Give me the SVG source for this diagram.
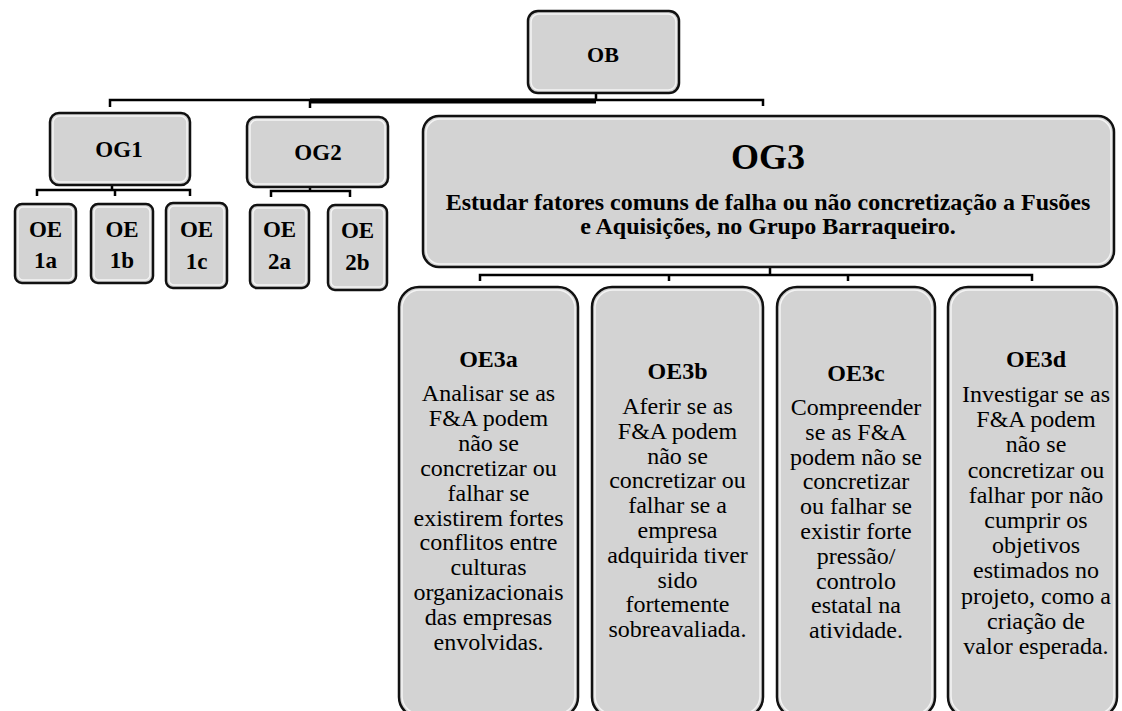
<svg xmlns="http://www.w3.org/2000/svg" width="1122" height="711" viewBox="0 0 1122 711">
<style>
.box{fill:#d3d3d3;stroke:#111;stroke-width:2.5}
.hl{fill:none;stroke:#fff;stroke-opacity:0.75;stroke-width:1.5}
text{font-family:'Liberation Serif','Times New Roman','DejaVu Serif',serif;text-anchor:middle;fill:#000}
.b{font-weight:bold}
.r{font-weight:normal;font-size:24px}
.c{stroke:#000;stroke-width:2.5;fill:none}
</style>
<rect width="1122" height="711" fill="#fff"/>
<g id="connectors">
<path class="c" d="M596,93 V100 M110,107 V100 H763 V106 M310,100 V108"/>
<path d="M310,101 H596" stroke="#000" stroke-width="5"/>
<path class="c" d="M112,185 V190 M37,196 V190 H190 V196 M115,190 V196"/>
<path class="c" d="M310,187 V191 M271,197 V191 H350 V197"/>
<path class="c" d="M770,267 V275 M480,281 V275 H1032 V281 M669,275 V281 M848,275 V281"/>
</g>
<g id="OB">
<rect class="box" x="528" y="11" width="151" height="82" rx="10"/>
<rect class="hl" x="531" y="14" width="145" height="76" rx="8"/>
<text class="b" x="603" y="62" font-size="22">OB</text>
</g>
<g id="OG1">
<rect class="box" x="50" y="113" width="140" height="72" rx="9"/>
<rect class="hl" x="53" y="116" width="134" height="66" rx="7"/>
<text class="b" x="119" y="157" font-size="23">OG1</text>
</g>
<g id="OG2">
<rect class="box" x="247" y="117" width="141" height="70" rx="9"/>
<rect class="hl" x="250" y="120" width="135" height="64" rx="7"/>
<text class="b" x="318" y="160" font-size="23">OG2</text>
</g>
<g id="OE1a">
<rect class="box" x="15" y="204" width="61" height="79" rx="7"/>
<rect class="hl" x="18" y="207" width="55" height="73" rx="5"/>
<text class="b" x="45.5" y="237" font-size="23">OE</text>
<text class="b" x="45.5" y="268" font-size="23">1a</text>
</g>
<g id="OE1b">
<rect class="box" x="91" y="204" width="62" height="79" rx="7"/>
<rect class="hl" x="94" y="207" width="56" height="73" rx="5"/>
<text class="b" x="122" y="237" font-size="23">OE</text>
<text class="b" x="122" y="268" font-size="23">1b</text>
</g>
<g id="OE1c">
<rect class="box" x="166" y="203" width="61" height="85" rx="7"/>
<rect class="hl" x="169" y="206" width="55" height="79" rx="5"/>
<text class="b" x="196.5" y="237" font-size="23">OE</text>
<text class="b" x="196.5" y="269" font-size="23">1c</text>
</g>
<g id="OE2a">
<rect class="box" x="250" y="205" width="59" height="83" rx="7"/>
<rect class="hl" x="253" y="208" width="53" height="77" rx="5"/>
<text class="b" x="279.5" y="237" font-size="23">OE</text>
<text class="b" x="279.5" y="269" font-size="23">2a</text>
</g>
<g id="OE2b">
<rect class="box" x="328" y="205" width="59" height="85" rx="7"/>
<rect class="hl" x="331" y="208" width="53" height="79" rx="5"/>
<text class="b" x="357.5" y="238" font-size="23">OE</text>
<text class="b" x="357.5" y="270" font-size="23">2b</text>
</g>
<g id="OG3">
<rect class="box" x="423" y="116" width="691" height="151" rx="16"/>
<rect class="hl" x="426" y="119" width="685" height="145" rx="14"/>
<text class="b" x="768" y="169" font-size="36">OG3</text>
<text class="b" x="768" y="210" font-size="24">Estudar fatores comuns de falha ou não concretização a Fusões</text>
<text class="b" x="768" y="234" font-size="24">e Aquisições, no Grupo Barraqueiro.</text>
</g>
<g id="OE3a">
<rect class="box" x="399" y="287" width="179" height="430" rx="20"/>
<rect class="hl" x="402" y="290" width="173" height="424" rx="18"/>
<text class="b" x="488.5" y="367" font-size="24">OE3a</text>
<text class="r" x="488.5" y="401"><tspan x="488.5">Analisar se as</tspan><tspan x="488.5" dy="24.9">F&amp;A podem</tspan><tspan x="488.5" dy="24.9">não se</tspan><tspan x="488.5" dy="24.9">concretizar ou</tspan><tspan x="488.5" dy="24.9">falhar se</tspan><tspan x="488.5" dy="24.9">existirem fortes</tspan><tspan x="488.5" dy="24.9">conflitos entre</tspan><tspan x="488.5" dy="24.9">culturas</tspan><tspan x="488.5" dy="24.9">organizacionais</tspan><tspan x="488.5" dy="24.9">das empresas</tspan><tspan x="488.5" dy="24.9">envolvidas.</tspan></text>
</g>
<g id="OE3b">
<rect class="box" x="592" y="287" width="171" height="430" rx="20"/>
<rect class="hl" x="595" y="290" width="165" height="424" rx="18"/>
<text class="b" x="677.5" y="379" font-size="24">OE3b</text>
<text class="r" x="677.5" y="414"><tspan x="677.5">Aferir se as</tspan><tspan x="677.5" dy="24.8">F&amp;A podem</tspan><tspan x="677.5" dy="24.8">não se</tspan><tspan x="677.5" dy="24.8">concretizar ou</tspan><tspan x="677.5" dy="24.8">falhar se a</tspan><tspan x="677.5" dy="24.8">empresa</tspan><tspan x="677.5" dy="24.8">adquirida tiver</tspan><tspan x="677.5" dy="24.8">sido</tspan><tspan x="677.5" dy="24.8">fortemente</tspan><tspan x="677.5" dy="24.8">sobreavaliada.</tspan></text>
</g>
<g id="OE3c">
<rect class="box" x="777" y="287" width="158" height="430" rx="20"/>
<rect class="hl" x="780" y="290" width="152" height="424" rx="18"/>
<text class="b" x="856" y="381" font-size="24">OE3c</text>
<text class="r" x="856" y="415"><tspan x="856">Compreender</tspan><tspan x="856" dy="24.8">se as F&amp;A</tspan><tspan x="856" dy="24.8">podem não se</tspan><tspan x="856" dy="24.8">concretizar</tspan><tspan x="856" dy="24.8">ou falhar se</tspan><tspan x="856" dy="24.8">existir forte</tspan><tspan x="856" dy="24.8">pressão/</tspan><tspan x="856" dy="24.8">controlo</tspan><tspan x="856" dy="24.8">estatal na</tspan><tspan x="856" dy="24.8">atividade.</tspan></text>
</g>
<g id="OE3d">
<rect class="box" x="948" y="287" width="169" height="430" rx="20"/>
<rect class="hl" x="951" y="290" width="163" height="424" rx="18"/>
<text class="b" x="1036" y="367" font-size="24">OE3d</text>
<text class="r" x="1036" y="402"><tspan x="1036">Investigar se as</tspan><tspan x="1036" dy="25.2">F&amp;A podem</tspan><tspan x="1036" dy="25.2">não se</tspan><tspan x="1036" dy="25.2">concretizar ou</tspan><tspan x="1036" dy="25.2">falhar por não</tspan><tspan x="1036" dy="25.2">cumprir os</tspan><tspan x="1036" dy="25.2">objetivos</tspan><tspan x="1036" dy="25.2">estimados no</tspan><tspan x="1036" dy="25.2">projeto, como a</tspan><tspan x="1036" dy="25.2">criação de</tspan><tspan x="1036" dy="25.2">valor esperada.</tspan></text>
</g>
</svg>
